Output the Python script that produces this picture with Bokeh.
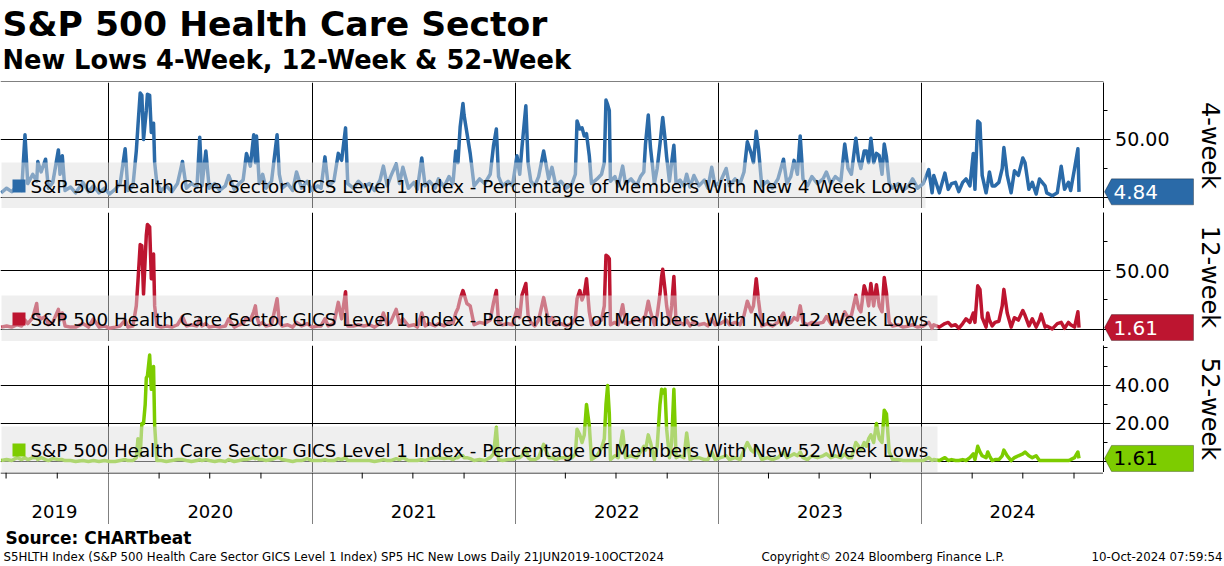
import math
import pandas as pd
from bokeh.plotting import figure
from bokeh.models import (Range1d, FixedTicker, Grid, Label, BoxAnnotation, PolyAnnotation,
                          ColumnDataSource, PrintfTickFormatter, Span)
from bokeh.layouts import column, row
from bokeh.embed import file_html
from bokeh.resources import INLINE

# ---------------- data ----------------
dates = [
 "2019-06-22","2019-07-02","2019-07-11","2019-07-21","2019-07-29","2019-08-04","2019-08-09","2019-08-18",
 "2019-08-25","2019-08-27","2019-09-02","2019-09-10","2019-09-15","2019-09-23","2019-10-03","2019-10-06",
 "2019-10-10","2019-10-15","2019-10-25","2019-11-03","2019-11-16","2019-11-26","2019-12-05","2019-12-15",
 "2019-12-25","2020-01-03","2020-01-13","2020-01-22","2020-01-31","2020-02-05","2020-02-14","2020-02-20",
 "2020-02-23","2020-02-27","2020-03-01","2020-03-04","2020-03-07","2020-03-09","2020-03-11","2020-03-15",
 "2020-03-18","2020-03-22","2020-03-24","2020-03-28","2020-04-05","2020-04-14","2020-04-24","2020-05-04",
 "2020-05-13","2020-05-20","2020-05-29","2020-06-08","2020-06-13","2020-06-17","2020-06-24","2020-06-30",
 "2020-07-10","2020-07-19","2020-07-29","2020-08-04","2020-08-14","2020-08-23","2020-08-30","2020-09-05",
 "2020-09-12","2020-09-18","2020-09-21","2020-09-23","2020-09-28","2020-10-04","2020-10-10","2020-10-20",
 "2020-10-30","2020-11-03","2020-11-08","2020-11-18","2020-11-27","2020-12-04","2020-12-13","2020-12-23",
 "2021-01-01","2021-01-11","2021-01-17","2021-01-24","2021-01-30","2021-02-09","2021-02-17","2021-02-23",
 "2021-03-02","2021-03-06","2021-03-16","2021-03-25","2021-04-04","2021-04-14","2021-04-23","2021-05-03",
 "2021-05-09","2021-05-16","2021-05-22","2021-06-01","2021-06-07","2021-06-13","2021-06-23","2021-07-03",
 "2021-07-09","2021-07-17","2021-07-23","2021-07-31","2021-08-10","2021-08-16","2021-08-26","2021-09-04",
 "2021-09-11","2021-09-16","2021-09-20","2021-09-24","2021-09-29","2021-10-01","2021-10-06","2021-10-12",
 "2021-10-19","2021-10-29","2021-11-07","2021-11-17","2021-11-23","2021-11-28","2021-12-02","2021-12-09",
 "2021-12-19","2021-12-27","2022-01-04","2022-01-09","2022-01-13","2022-01-20","2022-01-24","2022-01-29",
 "2022-02-05","2022-02-12","2022-02-21","2022-03-02","2022-03-08","2022-03-15","2022-03-24","2022-04-03",
 "2022-04-13","2022-04-19","2022-04-22","2022-04-27","2022-05-01","2022-05-05","2022-05-09","2022-05-14",
 "2022-05-18","2022-05-28","2022-06-05","2022-06-10","2022-06-13","2022-06-16","2022-06-19","2022-06-21",
 "2022-06-29","2022-07-05","2022-07-13","2022-07-18","2022-07-28","2022-08-07","2022-08-14","2022-08-20",
 "2022-08-23","2022-08-28","2022-09-01","2022-09-08","2022-09-13","2022-09-18","2022-09-21","2022-09-23",
 "2022-09-27","2022-09-30","2022-10-05","2022-10-09","2022-10-13","2022-10-17","2022-10-24","2022-10-31",
 "2022-11-05","2022-11-11","2022-11-18","2022-11-27","2022-12-07","2022-12-13","2022-12-20","2022-12-26",
 "2023-01-05","2023-01-15","2023-01-21","2023-01-31","2023-02-09","2023-02-16","2023-02-22","2023-03-01",
 "2023-03-05","2023-03-10","2023-03-14","2023-03-20","2023-03-30","2023-04-08","2023-04-18","2023-04-28",
 "2023-05-04","2023-05-11","2023-05-17","2023-05-23","2023-05-28","2023-06-02","2023-06-10","2023-06-18",
 "2023-06-28","2023-07-08","2023-07-14","2023-07-22","2023-07-30","2023-08-09","2023-08-16","2023-08-22",
 "2023-08-28","2023-09-05","2023-09-10","2023-09-14","2023-09-20","2023-09-24","2023-09-28","2023-10-02",
 "2023-10-07","2023-10-12","2023-10-17","2023-10-22","2023-10-26","2023-10-30","2023-11-04","2023-11-10",
 "2023-11-20","2023-11-29","2023-12-09","2023-12-16","2023-12-25","2024-01-04","2024-01-14","2024-01-20",
 "2024-01-23","2024-02-02","2024-02-12","2024-02-18","2024-02-24","2024-03-02","2024-03-08","2024-03-15",
 "2024-03-21","2024-03-28","2024-04-03","2024-04-06","2024-04-11","2024-04-15","2024-04-19","2024-04-26",
 "2024-04-29","2024-05-02","2024-05-07","2024-05-12","2024-05-19","2024-05-25","2024-05-28","2024-06-03",
 "2024-06-10","2024-06-16","2024-06-23","2024-07-01","2024-07-05","2024-07-12","2024-07-18","2024-07-25",
 "2024-07-31","2024-08-03","2024-08-10","2024-08-13","2024-08-23","2024-09-01","2024-09-08","2024-09-14",
 "2024-09-21","2024-09-25","2024-10-02","2024-10-08","2024-10-10",
]

lows_4w = [
 4,8,5,10,6,54,12,20, 14,31,22,33,8,13,41,20, 36,6,9,4,13,5,10,4,
 8,3,7,12,42,6,10,40, 62,90,88,50,65,75,89,88, 56,64,30,12,6,10,5,12,
 31,8,12,9,52,10,40,8, 12,6,10,19,7,12,15,38, 27,54,30,53,12,20,8,14,
 54,20,8,12,6,22,8,14, 6,10,8,35,10,14,38,32, 60,12,8,14,9,12,6,15,
 27,10,18,29,12,26,8,13, 7,34,10,14,8,16,9,18, 12,40,30,61,81,71,56,38,
 10,16,12,20,45,59,18,10, 14,10,36,20,43,79,30,14, 10,18,40,16,26,10,14,8,
 12,20,66,59,60,53,55,36, 12,16,20,30,84,80,75,14, 18,10,27,12,16,10,18,22,
 46,71,43,12,25,46,60,69, 51,35,14,30,45,12,15,10, 20,9,19,10,15,8,26,10,
 14,25,10,16,12,22,48,38, 30,57,42,10,14,8,16,33, 12,18,32,20,53,16,10,18,
 12,16,22,12,18,14,46,25, 20,51,32,25,40,40,30,51, 30,38,36,20,46,35,12,8,
 12,6,10,16,8,12,24,4, 19,4,21,7,12,13,5,13, 16,10,38,7,66,64,19,4,
 12,22,10,10,13,25,43,19, 4,23,19,34,30,7,13,3, 16,14,10,4,1.5,4,27,7,
 13,6,25,42,4.84,
]

lows_12w = [
 2,3,2,4,3,8,5,10, 22,12,9,11,4,6,17,8, 14,3,2,2,5,2,9,2,
 3,1,2,3,8,2,3,20, 41,72,71,30,60,80,89,87, 43,64,20,3,2,3,2,4,
 11,3,4,3,9,3,5,2, 3,2,3,9,2,4,5,10, 8,15,20,12,4,6,3,4,
 26,6,3,4,2,6,3,5, 2,3,3,9,3,5,23,9, 32,3,3,4,3,4,2,5,
 14,4,6,17,5,9,3,4, 2,14,3,5,3,5,3,6, 5,14,18,26,33,30,22,20,
 4,6,5,8,23,33,6,4, 5,4,17,10,29,39,12,6, 3,8,27,6,10,4,5,3,
 5,10,26,33,25,30,43,15, 4,6,8,20,63,62,60,4, 6,4,21,5,6,9,7,10,
 12,24,15,4,12,30,45,51, 34,20,5,20,45,5,6,4, 8,3,7,4,5,3,9,4,
 5,8,4,6,4,12,24,15, 20,43,25,3,5,3,6,14, 4,6,10,8,20,6,4,6,
 5,6,11,5,7,6,15,10, 12,29,18,15,37,31,20,39, 20,38,20,15,44,31,6,3,
 4,2,3,4,2,3,6,1, 4,2,5,6,3,4,1,5, 9,6,14,6,37,34,10,2,
 14,8,3,6,7,20,34,14, 2,10,8,16,12,3,9,2, 8,13,2,3,0.5,5,6,1,
 6,4,2,15,1.61,
]

lows_52w = [
 0.5,1,0.5,2,1,2,1,2, 2,1,2,1,0.5,1.5,1,1, 1,0.5,0.5,0,0.5,0,0.5,0,
 0.5,0,0,0.5,1,0.5,0.5,2, 12,3,20,20,30,44,45,56, 38,50,19,0.5,0.5,0,0.5,1,
 1,0.5,0,0.5,1,0.5,1,0.5, 0,0.5,0,1,0,0.5,1,1, 1.5,2,1.5,2,1,1,0.5,1,
 2,2,1,0.5,0,0.5,0.5,1.5, 0.5,0.5,0.5,1,0.5,0.5,1.5,1, 2,0.5,0.5,0.5,0.5,0.5,0,0.5,
 1,0.5,0.5,1.5,1,2,0.5,0.5, 0.5,1,0.5,1.5,2,2,1.5,2, 1,2,2,3,3,2,2,1.5,
 0.5,1,0.5,2,4,18,1,0.5, 1,1,2,2,3,7,2,1, 1,2,9,2,2,1,2,2,
 2,4,17,14,10,14,30,19, 1,3,7,12,30,40,25,1, 3,2,16,2,3,2,5,8,
 6,14,10,1,8,30,38,36, 38,17,2,10,38,2,3,2, 15,1,2,2,1,1,5,1,
 2,3,1,2,1,6,10,6, 5,8,5,1,2,1,2,5, 2,3,4,3,5,2,1,3,
 2,3,4,2,3,2,4,2, 2,10,8,6,10,8,12,14, 10,20,12,10,27,25,5,1,
 1,0.5,0.5,0.5,0.5,0.5,2,0.5, 1,0.5,2,0.5,1,0.5,0.5,1, 0.5,2,4,1,8,5,3,2,
 5,3,0.5,1,1,3,6,3, 0.5,2,3,4,5,3,2,3, 0.5,0.5,0.5,0.5,0.5,0.5,0.5,0.5,
 0.5,1,2,5,1.61,
]

series_labels = [
 "S&P 500 Health Care Sector GICS Level 1 Index - Percentage of Members With New 4 Week Lows",
 "S&P 500 Health Care Sector GICS Level 1 Index - Percentage of Members With New 12 Week Lows",
 "S&P 500 Health Care Sector GICS Level 1 Index - Percentage of Members With New 52 Week Lows",
]
panel_names = ["4-week", "12-week", "52-week"]
year_labels = ["2019", "2020", "2021", "2022", "2023", "2024"]
title_text = "S&P 500 Health Care Sector"
subtitle_text = "New Lows 4-Week, 12-Week & 52-Week"
source_text = "Source: CHARTbeat"
footer_left = "S5HLTH Index (S&P 500 Health Care Sector GICS Level 1 Index) SP5 HC New Lows  Daily 21JUN2019-10OCT2024"
footer_mid = "Copyright\u00a9 2024 Bloomberg Finance L.P."
footer_right = "10-Oct-2024 07:59:54"
x_start, x_end = "2019-06-21", "2024-11-23"

# ---------------- styling ----------------
FONT = "DejaVu Sans"
W_TOTAL = 1224
RIGHT = 121
FRAME_W = W_TOTAL - RIGHT
colors = ["#2a6aa8", "#bd1530", "#7dcc00"]
tag_text = ["white", "white", "black"]
legend_box_w = [925, 937, 937]

src = ColumnDataSource(dict(date=pd.to_datetime(dates), v4=lows_4w, v12=lows_12w, v52=lows_52w))

def ms(s):
    return pd.Timestamp(s).timestamp() * 1000.0

xr = Range1d(ms(x_start), ms(x_end))
year_ticks = [ms(f"{y}-01-01") for y in range(2020, 2025)]
quarter_ticks = [ms(f"{y}-{m:02d}-01") for y in range(2019, 2025) for m in (4, 7, 10)
                 if ms(x_start) < ms(f"{y}-{m:02d}-01") < ms(x_end)]


def bare(width, height, xrange, yrange, xdt=False, fill="white"):
    p = figure(width=width, height=height, x_range=xrange, y_range=yrange,
               x_axis_type="datetime" if xdt else "linear",
               x_axis_location=None, y_axis_location=None, toolbar_location=None,
               output_backend="svg", min_border_left=0, min_border_right=0,
               min_border_top=0, min_border_bottom=0)
    p.center = [c for c in p.center if not isinstance(c, Grid)]
    p.outline_line_color = None
    p.background_fill_color = fill
    p.border_fill_color = fill
    return p


def text(fig, x, y, s, size, bold=False, align="left", xu="screen"):
    fig.add_layout(Label(x=x, y=y, x_units=xu, y_units="screen", text=s, text_font=FONT,
                         text_font_size=size, text_font_style="bold" if bold else "normal",
                         text_color="black", text_align=align, text_baseline="middle"))


def make_panel(height, yr, yticks, yminor, col, key, label, name, idx):
    # main plotting area
    p = bare(FRAME_W, height, xr, yr, xdt=True)
    yt = FixedTicker(ticks=yticks, minor_ticks=yminor)
    p.add_layout(Grid(dimension=0, ticker=FixedTicker(ticks=year_ticks),
                      grid_line_color="black", grid_line_width=1))
    p.add_layout(Grid(dimension=1, ticker=yt, grid_line_color="black", grid_line_width=1))

    p.line(x="date", y=key, source=src, line_width=3.5, color=col, line_join="round")

    # legend box (semi-transparent, drawn over the line like the original)
    p.add_layout(BoxAnnotation(left=1, right=legend_box_w[idx], bottom=0, top=46,
                               left_units="screen", right_units="screen",
                               bottom_units="screen", top_units="screen",
                               fill_color="#e0e0e0", fill_alpha=0.5, line_color=None))
    p.add_layout(BoxAnnotation(left=12, right=25, bottom=16, top=29,
                               left_units="screen", right_units="screen",
                               bottom_units="screen", top_units="screen",
                               fill_color=col, fill_alpha=1.0, line_color=None))
    p.add_layout(Label(x=30, y=22, x_units="screen", y_units="screen", text=label,
                       text_font=FONT, text_font_size="18.3px", text_color="black",
                       text_baseline="middle"))

    # right-hand scale strip: value axis, last-value tag, panel name
    s = figure(width=RIGHT, height=height, x_range=Range1d(0, RIGHT), y_range=yr,
               x_axis_location=None, y_axis_location="left", toolbar_location=None,
               output_backend="svg", min_border_left=0, min_border_right=0,
               min_border_top=0, min_border_bottom=0)
    s.center = [c for c in s.center if not isinstance(c, Grid)]
    s.outline_line_color = None
    s.background_fill_color = "white"
    s.border_fill_color = "white"
    ax = s.yaxis[0]
    ax.ticker = yt
    ax.formatter = PrintfTickFormatter(format="%.2f")
    ax.major_label_overrides = {0: ""}
    ax.axis_line_color = "black"
    ax.axis_line_width = 1
    ax.major_tick_out = 0
    ax.major_tick_in = 7
    ax.minor_tick_out = 0
    ax.minor_tick_in = 4
    ax.major_tick_line_color = "black"
    ax.minor_tick_line_color = "black"
    ax.major_label_standoff = -66
    ax.major_label_text_font = FONT
    ax.major_label_text_font_size = "19px"
    ax.major_label_text_color = "black"

    last = src.data[key][-1]
    h = 13.0 * (yr.end - yr.start) / height
    s.add_layout(PolyAnnotation(xs=[1, 8, 90, 90, 8], ys=[last, last + h, last + h, last - h, last - h],
                                xs_units="data", ys_units="data",
                                fill_color=col, fill_alpha=1.0, line_color="black", line_width=1))
    s.add_layout(Label(x=10, y=last, x_units="data", y_units="data",
                       text=f"{last:.2f}", text_color=tag_text[idx], text_font=FONT,
                       text_font_size="20px", text_baseline="middle", text_align="left"))
    s.add_layout(Label(x=106, y=(yr.start + yr.end) / 2, x_units="data", y_units="data",
                       text=name, angle=-math.pi / 2, text_align="center", text_baseline="middle",
                       text_font=FONT, text_font_size="24px", text_color="black"))
    return row(p, s, spacing=0)


r1 = make_panel(126, Range1d(-9.5, 99.1), [0, 50], [25, 75, 100],
                colors[0], "v4", series_labels[0], panel_names[0], 0)
r2 = make_panel(129, Range1d(-10.2, 99.2), [0, 50], [25, 75, 100],
                colors[1], "v12", series_labels[1], panel_names[1], 1)
r3 = make_panel(127, Range1d(-5.8, 61.05), [0, 20, 40], [10, 30, 50, 60],
                colors[2], "v52", series_labels[2], panel_names[2], 2)

# ---------------- title ----------------
tf = bare(W_TOTAL, 82, Range1d(0, W_TOTAL), Range1d(0, 82))
text(tf, 2, 59, title_text, "34.6px", bold=True)
text(tf, 2, 23, subtitle_text, "25.7px", bold=True)
tf.segment(x0=[0], x1=[FRAME_W], y0=[0.5], y1=[0.5], line_color="black", line_width=1)

# ---------------- time axis strip ----------------
yf = bare(FRAME_W, 52, xr, Range1d(0, 52), xdt=True)
yf.add_layout(Grid(dimension=0, ticker=FixedTicker(ticks=year_ticks),
                   grid_line_color="#808080", grid_line_width=1))
qsrc = ColumnDataSource(dict(x=pd.to_datetime(quarter_ticks, unit="ms")))
yf.segment(x0="x", x1="x", y0=46, y1=52, source=qsrc, line_color="black", line_width=1)
yf.add_layout(Span(location=51.5, dimension="width", line_color="black", line_width=1))
bounds = [xr.start] + year_ticks + [xr.end]
for i, yl in enumerate(year_labels):
    text(yf, (bounds[i] + bounds[i + 1]) / 2, 13, yl, "18px", align="center", xu="data")
yf_side = bare(RIGHT, 52, Range1d(0, 1), Range1d(0, 1))
ry = row(yf, yf_side, spacing=0)

# ---------------- footer ----------------
ff = bare(W_TOTAL, 42, Range1d(0, W_TOTAL), Range1d(0, 42))
text(ff, 5, 28.5, source_text, "17px", bold=True)
text(ff, 3, 10, footer_left, "11.8px")
text(ff, 761, 10, footer_mid, "11.8px")
text(ff, 1222, 10, footer_right, "11.8px", align="right")

sep1 = bare(W_TOTAL, 4, Range1d(0, 1), Range1d(0, 1), fill="#555555")
sep2 = bare(W_TOTAL, 4, Range1d(0, 1), Range1d(0, 1), fill="#555555")

layout = column(tf, r1, sep1, r2, sep2, r3, ry, ff, spacing=0)

html = file_html(layout, INLINE, title="S&P 500 Health Care Sector")
html = html.replace("<head>", "<head><style>html,body{margin:0;padding:0;}</style>", 1)
open("out.html", "w").write(html)
